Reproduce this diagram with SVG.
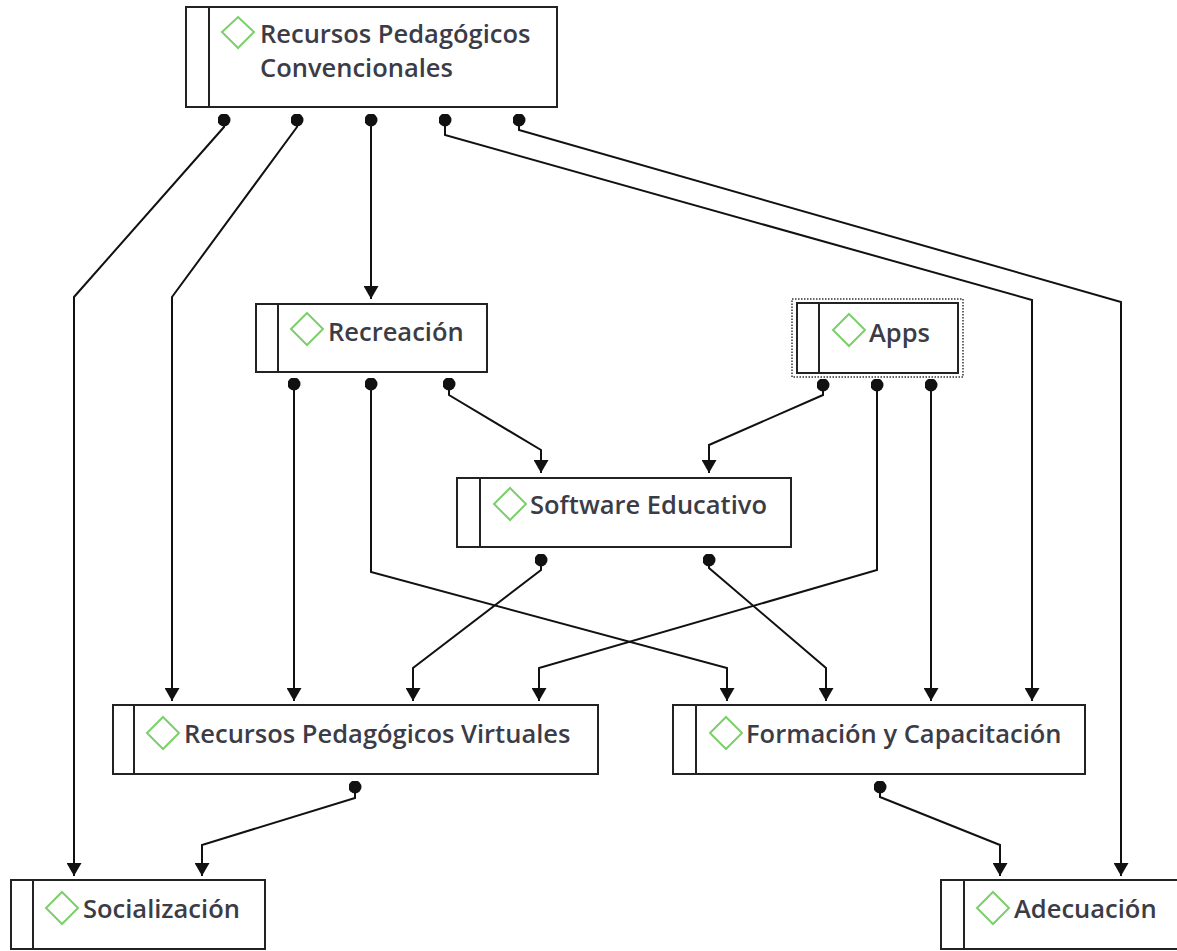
<svg xmlns="http://www.w3.org/2000/svg" width="1177" height="951" viewBox="0 0 1177 951">
<defs>
<style>
.box{fill:#fff;stroke:#222;stroke-width:2}
.bar{stroke:#222;stroke-width:2}
.dia{fill:none;stroke:#7ccf6c;stroke-width:2}
.lbl{font-family:"Open Sans","Noto Sans",sans-serif;font-weight:600;font-size:25.5px;fill:#3c3c46}
.con{fill:none;stroke:#111;stroke-width:2;marker-start:url(#dot);marker-end:url(#arr)}
</style>
<marker id="arr" viewBox="0 0 13 15" refX="13" refY="7.5" markerWidth="13" markerHeight="15" markerUnits="userSpaceOnUse" orient="auto"><path d="M0,0 L13,7.5 L0,15 z" fill="#111"/></marker>
<marker id="dot" viewBox="0 0 13 13" refX="6.5" refY="6.5" markerWidth="13" markerHeight="13" markerUnits="userSpaceOnUse"><circle cx="6.5" cy="6.5" r="6.5" fill="#111"/></marker>
</defs>
<rect width="1177" height="951" fill="#fff"/>
<g id="connectors">
<polyline class="con" points="224,120 224,127 74,297 74,876"/>
<polyline class="con" points="297,120 297,127 172,297 172,701"/>
<polyline class="con" points="371,120 371,299"/>
<polyline class="con" points="445,120 445,135 1032,300 1032,701"/>
<polyline class="con" points="519,120 519,130 1121,302 1121,876"/>
<polyline class="con" points="294,384 294,701"/>
<polyline class="con" points="371,384 371,572 727,668 727,701"/>
<polyline class="con" points="449,384 449,395 541,450 541,473"/>
<polyline class="con" points="823,385 823,395 709,445 709,473"/>
<polyline class="con" points="877,385 877,570 539,668 539,701"/>
<polyline class="con" points="931,385 931,701"/>
<polyline class="con" points="541,560 541,570 413,668 413,701"/>
<polyline class="con" points="709,560 709,568 826,668 826,701"/>
<polyline class="con" points="355,787 355,798 202,845 202,876"/>
<polyline class="con" points="880,787 880,797 1000,845 1000,876"/>
</g>
<g id="n-rpc">
<rect class="box" x="186" y="7" width="371" height="100"/>
<line class="bar" x1="209" y1="7" x2="209" y2="107"/>
<path class="dia" d="M238,17 L254,32 L238,48 L222,32 z"/>
<text class="lbl" x="260" y="43">Recursos Pedagógicos</text>
<text class="lbl" x="260" y="77">Convencionales</text>
</g>
<g id="n-recreacion">
<rect class="box" x="256" y="304" width="231" height="68"/>
<line class="bar" x1="278" y1="304" x2="278" y2="372"/>
<path class="dia" d="M307,313 L323,329 L307,345 L291,329 z"/>
<text class="lbl" x="328" y="341">Recreación</text>
</g>
<g id="n-apps">
<rect x="792" y="299" width="171" height="78" fill="none" stroke="#333" stroke-width="1.5" stroke-dasharray="1.5,1.5"/>
<rect class="box" x="797" y="303" width="161" height="70"/>
<line class="bar" x1="819" y1="303" x2="819" y2="373"/>
<path class="dia" d="M849,314 L865,330 L849,346 L833,330 z"/>
<text class="lbl" x="869" y="342">Apps</text>
</g>
<g id="n-software">
<rect class="box" x="457" y="478" width="334" height="69"/>
<line class="bar" x1="480" y1="478" x2="480" y2="547"/>
<path class="dia" d="M510,488 L526,504 L510,520 L494,504 z"/>
<text class="lbl" x="530" y="514">Software Educativo</text>
</g>
<g id="n-rpv">
<rect class="box" x="113" y="705" width="485" height="69"/>
<line class="bar" x1="134" y1="705" x2="134" y2="774"/>
<path class="dia" d="M163,717 L179,733 L163,749 L147,733 z"/>
<text class="lbl" x="184" y="743">Recursos Pedagógicos Virtuales</text>
</g>
<g id="n-formacion">
<rect class="box" x="673" y="705" width="412" height="69"/>
<line class="bar" x1="696" y1="705" x2="696" y2="774"/>
<path class="dia" d="M726,717 L742,733 L726,749 L710,733 z"/>
<text class="lbl" x="746" y="743">Formación y Capacitación</text>
</g>
<g id="n-socializacion">
<rect class="box" x="11" y="880" width="254" height="69"/>
<line class="bar" x1="33" y1="880" x2="33" y2="949"/>
<path class="dia" d="M62,892 L78,908 L62,924 L46,908 z"/>
<text class="lbl" x="83" y="918">Socialización</text>
</g>
<g id="n-adecuacion">
<rect class="box" x="941" y="880" width="245" height="69"/>
<line class="bar" x1="964" y1="880" x2="964" y2="949"/>
<path class="dia" d="M993,892 L1009,908 L993,924 L977,908 z"/>
<text class="lbl" x="1014" y="918">Adecuación</text>
</g>
</svg>
